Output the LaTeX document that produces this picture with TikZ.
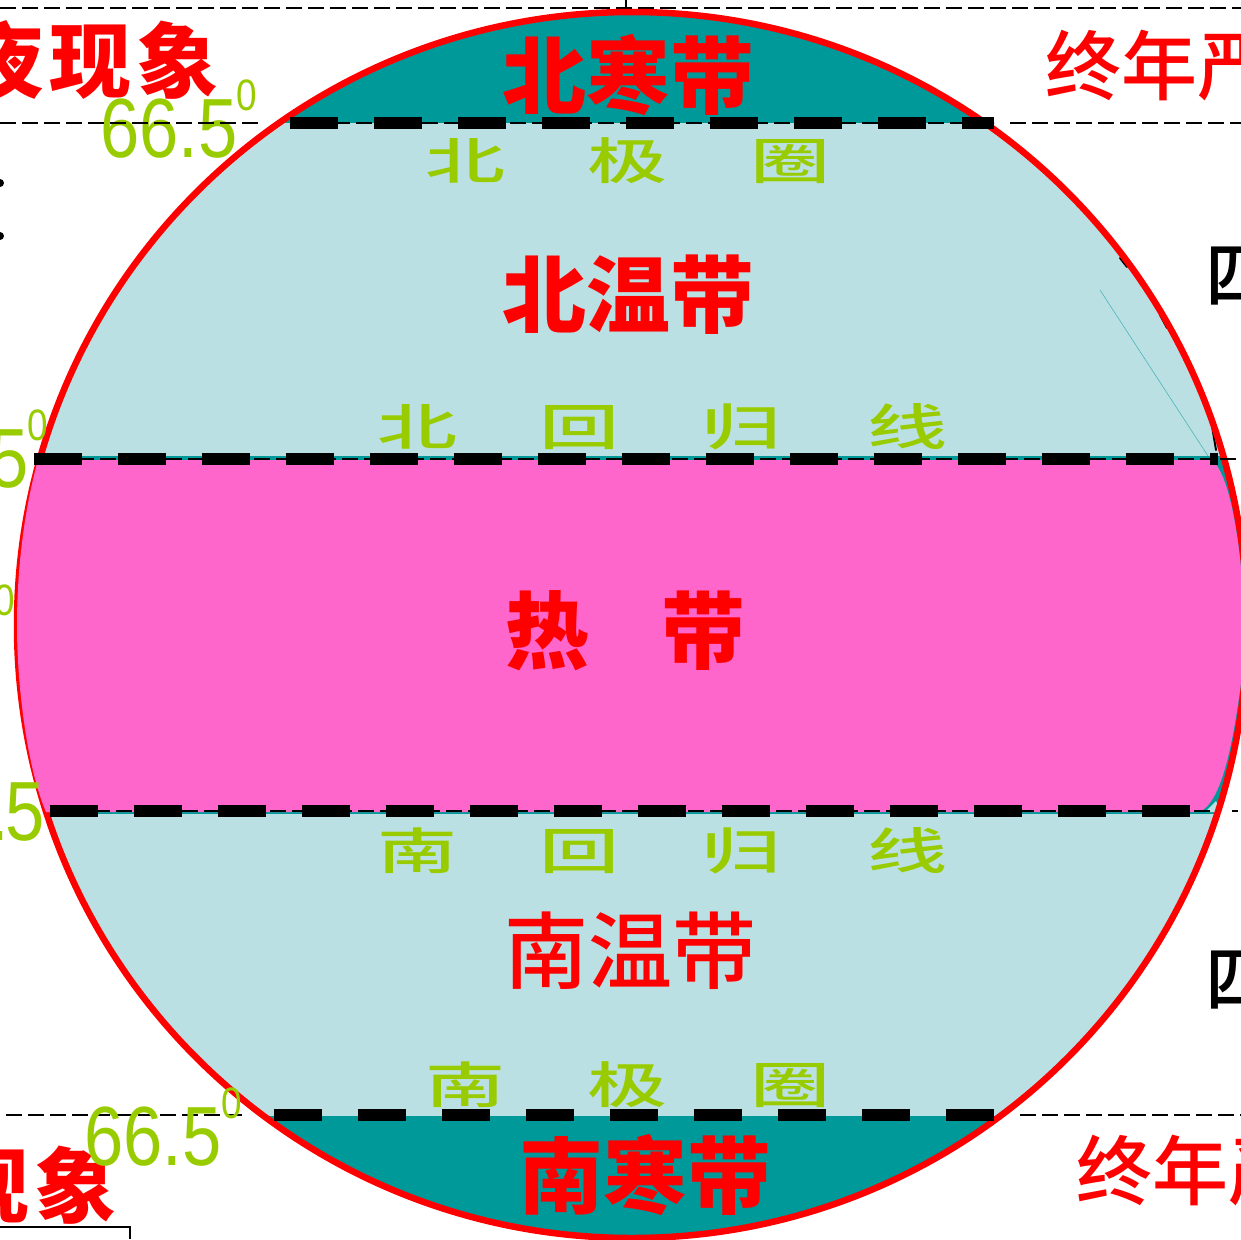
\documentclass[tikz,border=0pt]{standalone}
\usepackage{graphicx}
\usepackage{fontspec}
\setmainfont{Liberation Sans}
\newfontfamily\cjk{Noto Sans CJK SC}
\newfontfamily\cjkm[UprightFont={* Medium}]{Noto Sans CJK SC}
\definecolor{teal1}{HTML}{009999}
\definecolor{lightz}{HTML}{BBE0E3}
\definecolor{pinkz}{HTML}{FF66CC}
\definecolor{greenz}{HTML}{99CC00}
\tikzset{
  zone/.style={font=\cjk\bfseries\fontsize{84}{84}\selectfont,text=red,inner sep=0pt,anchor=base},
  zonereg/.style={font=\cjkm\fontsize{84}{84}\selectfont,text=red,inner sep=0pt,anchor=base},
  sidetext/.style={font=\cjk\bfseries\fontsize{82}{82}\selectfont,text=red,inner sep=0pt},
  blackch/.style={font=\cjkm\fontsize{72}{72}\selectfont,text=black,inner sep=0pt,anchor=base west},
  linename/.style={font=\cjkm,text=greenz,inner sep=0pt,anchor=base},
  deg/.style={font=\fontsize{84}{84}\selectfont,text=greenz,inner sep=0pt},
  degsup/.style={font=\fontsize{44}{44}\selectfont,text=greenz,inner sep=0pt},
  thinl/.style={draw=black,line width=2pt,dash pattern=on 16pt off 6pt},
  thickl/.style={draw=black,line width=12pt,dash pattern=on 48pt off 36pt},
  rim/.style={draw=red,line width=6.5pt},
  sliver/.style={draw=black,line width=2pt,line cap=round},
}
\newcommand{\gch}[1]{\scalebox{1}[0.62]{\fontsize{80}{80}\selectfont #1}}
\newcommand{\nar}[1]{\scalebox{.84}[1]{#1}}
\def\rimpath{(632,625) ellipse [x radius=615,y radius=613]}
\begin{document}
\begin{tikzpicture}[x=1pt,y=-1pt]
\useasboundingbox (0,0) rectangle (1241,1239);
\clip (0,0) rectangle (1241,1239);
\fill[white] (0,0) rectangle (1241,1239);
% outer thin lines and frame bits
\coordinate (t1) at (0,8); \coordinate (t2) at (1241,8);
\coordinate (a1) at (0,123); \coordinate (a2) at (258,123);
\coordinate (a3) at (1010,123); \coordinate (a4) at (1241,123);
\coordinate (b1) at (6,1115); \coordinate (b2) at (242,1115);
\coordinate (b3) at (1020,1115); \coordinate (b4) at (1241,1115);
\coordinate (c1) at (1220,459); \coordinate (c2) at (1241,459);
\coordinate (d1) at (1232,811); \coordinate (d2) at (1238,811);
\draw[thinl] (t1) -- (t2);
\draw[line width=2pt] (626,0) -- (626,8);
\draw[line width=2pt] (0,1227) -- (130,1227) -- (130,1239);
\fill (0,183) circle (4);
\fill (0,236) circle (4);
% side texts
\node[sidetext,anchor=base east] (nightN) at (219,91) {夜\hspace{5pt}现\hspace{5pt}象};
\node[sidetext,anchor=base east] (nightS) at (117,1216) {现\hspace{5pt}象};
\node[sidetext,anchor=base west,font=\cjkm\fontsize{76}{76}\selectfont] (dayN) at (1045,94) {终年严};
\node[sidetext,anchor=base west,font=\cjkm\fontsize{76}{76}\selectfont] (dayS) at (1076,1199) {终年严};
\node[blackch] (siN) at (1205,301) {四};
\node[blackch] (siS) at (1205,1005) {四};
% globe
\begin{scope}
  \clip \rimpath;
  \fill[lightz] (0,0) rectangle (1260,1260);
  \fill[teal1] (0,0) rectangle (1260,123);
  \fill[teal1] (0,1116) rectangle (1260,1260);
  \fill[teal1] (0,456) rectangle (1260,814);
\end{scope}
\draw[teal1!60!lightz,line width=.6pt] (1100,290) -- (1208,456);
\fill[lightz] (1205,812) -- (1216,801) -- (1221,812) -- cycle;
\draw[sliver] (1077,205) -- (1092,219);
\draw[sliver] (1120,258) -- (1127,267);
\draw[sliver] (1160,315) -- (1167,328);
\draw[sliver] (1211,420) -- (1216,450);
\draw[rim] \rimpath;
\fill[pinkz] (38,460) .. controls (24,510) and (17,570) .. (17,625)
  .. controls (17,690) and (28,770) .. (46,812) -- (1198,812)
  .. controls (1225,805) and (1237,720) .. (1245,650)
  .. controls (1245,580) and (1235,480) .. (1212,460) -- cycle;
% inner thin dashes
\coordinate (e1) at (290,123); \coordinate (e2) at (994,123);
\coordinate (f1) at (34,459); \coordinate (f2) at (1218,459);
\coordinate (g1) at (50,811); \coordinate (g2) at (1216,811);
\coordinate (h1) at (274,1115); \coordinate (h2) at (994,1115);
\draw[thinl] (a3) -- (a4);
\draw[thinl] (b1) -- (b2);
\draw[thinl] (b3) -- (b4);
\draw[thinl] (c1) -- (c2);
\draw[thinl] (d1) -- (d2);
\draw[thinl,line width=1.5pt] (e1) -- (e2);
\draw[thinl,line width=1.5pt] (f1) -- (f2);
\draw[thinl,line width=1.5pt] (g1) -- (g2);
% thick dashes
\draw[thickl] (e1) -- (e2);
\draw[thickl] (f1) -- (f2);
\coordinate (g3) at (1190,811);
\draw[thickl] (g1) -- (g3);
\draw[thickl] (h1) -- (h2);
% zone names
\node[zone] (zNF) at (628,107) {北寒带};
\node[zone] (zNT) at (628,326) {北温带};
\node[zone] (zH1) at (547,662) {热};
\node[zone] (zH2) at (703,662) {带};
\node[zonereg] (zST) at (630,982) {南温带};
\node[zone] (zSF) at (645,1207) {南寒带};
% line names
\node[linename] (n1) at (465,179) {\gch{北}};
\node[linename] (n2) at (627,179) {\gch{极}};
\node[linename] (n3) at (790,179) {\gch{圈}};
\node[linename] (c1n) at (417,445) {\gch{北}};
\node[linename] (c2n) at (579,445) {\gch{回}};
\node[linename] (c3n) at (741,445) {\gch{归}};
\node[linename] (c4n) at (907,445) {\gch{线}};
\node[linename] (s1n) at (417,869) {\gch{南}};
\node[linename] (s2n) at (579,869) {\gch{回}};
\node[linename] (s3n) at (741,869) {\gch{归}};
\node[linename] (s4n) at (907,869) {\gch{线}};
\node[linename] (p1) at (465,1103) {\gch{南}};
\node[linename] (p2) at (627,1103) {\gch{极}};
\node[linename] (p3) at (790,1103) {\gch{圈}};
% degrees
\node[deg,anchor=base west] (d1n) at (100,157) {\nar{66.5}};
\node[degsup,anchor=base west] (d1s) at (236,110) {\nar{0}};
\node[deg,anchor=base east] (d2n) at (29,487) {\nar{5}};
\node[degsup,anchor=base east] (d2s) at (48,440) {\nar{0}};
\node[degsup,anchor=base east] (d3s) at (15,615) {\nar{0}};
\node[deg,anchor=base east] (d4n) at (45,840) {\nar{5}};
\node[deg,anchor=base east] (d4p) at (9,840) {\nar{.}};
\node[deg,anchor=base west] (d5n) at (84,1165) {\nar{66.5}};
\node[degsup,anchor=base west] (d5s) at (221,1118) {\nar{0}};
\draw[thinl] (a1) -- (a2);
\end{tikzpicture}
\end{document}
